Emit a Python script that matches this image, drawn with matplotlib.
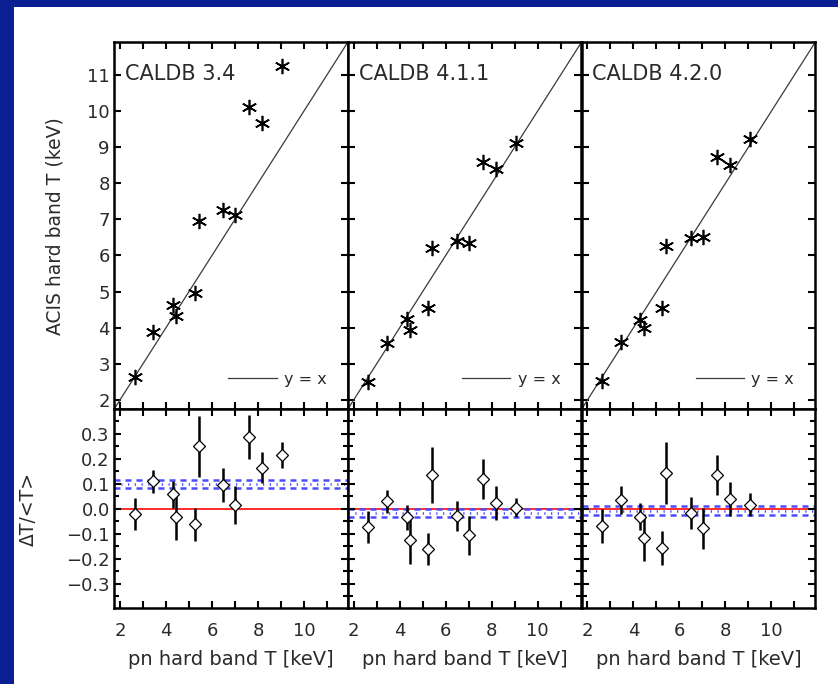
import numpy as np
import matplotlib.pyplot as plt
from matplotlib.ticker import MultipleLocator
from matplotlib.patches import Rectangle

plt.rcParams['font.family'] = ['DejaVu Sans']

versions = ['CALDB 3.4', 'CALDB 4.1.1', 'CALDB 4.2.0']

# pn hard band temperatures (keV), same clusters in every panel
pn_T = [2.64, 3.45, 4.30, 4.44, 5.25, 5.42, 6.50, 7.01, 7.61, 8.19, 9.05]

# ACIS hard band temperatures (keV)
acis_34 = [2.64, 3.89, 4.63, 4.32, 4.97, 6.95, 7.26, 7.12, 10.12, 9.67, 11.25]
acis_411 = [2.50, 3.57, 4.23, 3.94, 4.54, 6.20, 6.41, 6.34, 8.60, 8.38, 9.10]
acis_420 = [2.53, 3.59, 4.21, 3.98, 4.54, 6.26, 6.47, 6.50, 8.72, 8.50, 9.22]

# fractional difference dT/<T> and its error
dT_34 = [-0.020, 0.111, 0.058, -0.034, -0.061, 0.250, 0.097, 0.016, 0.286, 0.165, 0.216]
dT_34_err = [0.064, 0.046, 0.054, 0.091, 0.066, 0.122, 0.068, 0.077, 0.088, 0.061, 0.051]
dT_411 = [-0.072, 0.030, -0.034, -0.126, -0.159, 0.135, -0.028, -0.105, 0.120, 0.023, 0.005]
dT_411_err = [0.064, 0.045, 0.049, 0.093, 0.064, 0.111, 0.061, 0.078, 0.079, 0.068, 0.039]
dT_420 = [-0.069, 0.036, -0.031, -0.115, -0.155, 0.145, -0.015, -0.078, 0.135, 0.039, 0.016]
dT_420_err = [0.068, 0.057, 0.054, 0.093, 0.068, 0.124, 0.064, 0.081, 0.081, 0.068, 0.046]

# weighted mean of dT/<T> and its error
mean_dT = [0.099, -0.016, -0.008]
mean_dT_err = [0.016, 0.016, 0.018]

acis_all = [acis_34, acis_411, acis_420]
dT_all = [dT_34, dT_411, dT_420]
dT_err_all = [dT_34_err, dT_411_err, dT_420_err]

T_lim = (1.74, 11.9)
dT_lim = (-0.398, 0.398)

ink = '#2a2a2a'
blue = '#4a4aff'

fig = plt.figure(figsize=(8.38, 6.84), dpi=100, facecolor='#0c1f92')
fig.patches.append(Rectangle((14 / 838, 0), 1, 1 - 7 / 684, transform=fig.transFigure,
                             facecolor='white', edgecolor='none', zorder=-10))

lefts = [114 / 838, 347.7 / 838, 581.5 / 838]
width = 233.7 / 838


def style_axes(ax):
    for s in ax.spines.values():
        s.set_linewidth(1.8)
        s.set_color('black')
    ax.tick_params(which='both', direction='in', top=True, right=True,
                   width=1.5, colors='black', labelcolor=ink, labelsize=13)
    ax.tick_params(which='major', length=5)
    ax.tick_params(which='minor', length=5)


def minus_fmt(v, pos):
    if v < -1e-9:
        return '\u2212%.1f' % -v
    return '%.1f' % abs(v)


for i in range(3):
    ax_t = fig.add_axes([lefts[i], 0.4016, width, 0.5365])
    ax_b = fig.add_axes([lefts[i], 0.1107, width, 0.2909])

    # top: ACIS vs pn temperatures
    ax_t.plot(T_lim, T_lim, color='#3a3a3a', lw=0.9, label='y = x')
    ax_t.plot(pn_T, acis_all[i], ls='none', marker=(6, 2, 0), ms=11,
              mec='black', mew=1.2)
    ax_t.set_xlim(T_lim)
    ax_t.set_ylim(T_lim)
    ax_t.xaxis.set_major_locator(MultipleLocator(1))
    ax_t.yaxis.set_major_locator(MultipleLocator(1))
    style_axes(ax_t)
    ax_t.tick_params(axis='x', labelbottom=False)
    ax_t.tick_params(axis='y', pad=3)
    ax_t.text(0.047, 0.898, versions[i], transform=ax_t.transAxes,
              fontsize=15, color=ink, va='baseline', ha='left')
    ax_t.legend(loc='center right', bbox_to_anchor=(0.91, 0.082), frameon=False,
                borderpad=0, borderaxespad=0, handlelength=3.05, handletextpad=0.45,
                fontsize=11.5, labelcolor=ink)

    # bottom: fractional differences
    ax_b.axhline(0, color='#ff1a1a', lw=1.3, zorder=1)
    ax_b.axhline(mean_dT[i], color=blue, lw=1.8, ls=(0, (0.5, 2.2)), zorder=1)
    ax_b.axhline(mean_dT[i] + mean_dT_err[i], color=blue, lw=1.8, ls=(0, (2.4, 2.0)), zorder=1)
    ax_b.axhline(mean_dT[i] - mean_dT_err[i], color=blue, lw=1.8, ls=(0, (2.4, 2.0)), zorder=1)
    ax_b.errorbar(pn_T, dT_all[i], yerr=dT_err_all[i], fmt='D', ms=6.6,
                  mfc='white', mec='black', mew=0.9, ecolor='black',
                  elinewidth=1.8, capsize=0, zorder=3)
    ax_b.set_xlim(T_lim)
    ax_b.set_ylim(dT_lim)
    ax_b.xaxis.set_major_locator(MultipleLocator(2))
    ax_b.xaxis.set_minor_locator(MultipleLocator(1))
    ax_b.yaxis.set_major_locator(MultipleLocator(0.1))
    ax_b.yaxis.set_minor_locator(MultipleLocator(0.05))
    style_axes(ax_b)
    ax_b.tick_params(axis='y', which='minor', length=3.5)
    ax_b.tick_params(axis='x', pad=10)
    ax_b.tick_params(axis='y', pad=3)
    ax_b.set_xlabel('pn hard band T [keV]', fontsize=14, color=ink, labelpad=7)

    if i == 0:
        ax_t.set_ylabel('ACIS hard band T (keV)', fontsize=13.5, color=ink)
        ax_t.yaxis.set_label_coords(-0.21, 0.5)
        ax_b.set_ylabel('ΔT/<T>', fontsize=13.5, color=ink)
        ax_b.yaxis.set_label_coords(-0.325, 0.5)
        ax_b.yaxis.set_major_formatter(plt.FuncFormatter(minus_fmt))
    else:
        ax_t.tick_params(axis='y', labelleft=False)
        ax_b.tick_params(axis='y', labelleft=False)

fig.savefig('out.png', dpi=100, facecolor=fig.get_facecolor())
